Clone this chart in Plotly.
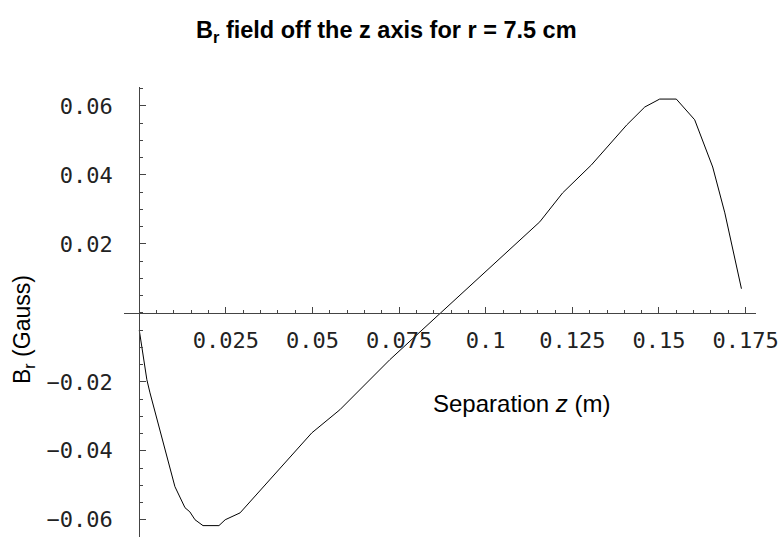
import plotly.graph_objects as go

# Data
z_vals = [0.0, 0.0022, 0.0031, 0.0103, 0.0132, 0.0146, 0.0161, 0.0184, 0.0230, 0.0248,
          0.0291, 0.0498, 0.0579, 0.0723, 0.0870, 0.1156, 0.1222, 0.1305, 0.1407,
          0.1459, 0.1502, 0.1550, 0.1603, 0.1655, 0.1690, 0.1738]
br_vals = [-0.0050, -0.0194, -0.0232, -0.0504, -0.0565, -0.0577, -0.0600, -0.0617, -0.0617,
           -0.0600, -0.0580, -0.0348, -0.0281, -0.0136, 0.0, 0.0264, 0.0348, 0.0429,
           0.0545, 0.0597, 0.0620, 0.0620, 0.0560, 0.0423, 0.0290, 0.0070]

x_ticks = [0.025, 0.05, 0.075, 0.1, 0.125, 0.15, 0.175]
x_ticktext = ["0.025", "0.05", "0.075", "0.1", "0.125", "0.15", "0.175"]
y_ticks = [-0.06, -0.04, -0.02, 0.02, 0.04, 0.06]
y_ticktext = ["\u22120.06", "\u22120.04", "\u22120.02", "0.02", "0.04", "0.06"]

title_text = "B<sub>r</sub> field off the z axis for r = 7.5 cm"
x_label = "Separation <i>z</i> (m)"
y_label = "B<sub>r</sub> (Gauss)"

x_range = [-0.0044, 0.178]
y_range = [-0.065, 0.0655]

fig = go.Figure()
fig.add_trace(go.Scatter(x=z_vals, y=br_vals, mode="lines",
                         line=dict(color="black", width=1), showlegend=False))

tick_font = dict(family="DejaVu Sans Mono", size=22, color="#222")
axis_color = "#444"

fig.update_layout(
    width=781, height=539,
    margin=dict(l=124, r=25, t=87, b=2),
    paper_bgcolor="white", plot_bgcolor="white",
    xaxis=dict(
        range=x_range, showgrid=False, zeroline=False,
        showline=True, linecolor=axis_color, linewidth=1,
        anchor="free", position=(0 - y_range[0]) / (y_range[1] - y_range[0]),
        tickmode="array", tickvals=x_ticks, ticktext=x_ticktext,
        ticks="inside", ticklen=6, tickcolor=axis_color, tickwidth=1,
        minor=dict(tickmode="linear", tick0=0, dtick=0.005, ticks="inside",
                   ticklen=3, tickcolor=axis_color, tickwidth=1),
        tickfont=tick_font, ticklabelstandoff=8,
    ),
    yaxis=dict(
        range=y_range, showgrid=False, zeroline=False,
        showline=True, linecolor=axis_color, linewidth=1,
        anchor="free", position=(0 - x_range[0]) / (x_range[1] - x_range[0]),
        tickmode="array", tickvals=y_ticks, ticktext=y_ticktext,
        ticks="inside", ticklen=6, tickcolor=axis_color, tickwidth=1,
        minor=dict(tickmode="linear", tick0=0, dtick=0.005, ticks="inside",
                   ticklen=3, tickcolor=axis_color, tickwidth=1),
        tickfont=tick_font, ticklabelstandoff=22,
    ),
    annotations=[
        dict(text=title_text, xref="paper", yref="paper", x=(386 - 124) / 632, y=1 + (87 - 32) / 450,
             xanchor="center", yanchor="middle", showarrow=False,
             font=dict(family="Liberation Sans Narrow, Arial Narrow, Liberation Sans", size=23.5, color="black",
                       weight="bold")),
        dict(text=x_label, xref="paper", yref="paper", x=(521 - 124) / 632, y=(537 - 403) / 450,
             xanchor="center", yanchor="middle", showarrow=False,
             font=dict(family="Liberation Sans, Arial", size=24, color="black")),
        dict(text=y_label, xref="paper", yref="paper", x=(23 - 124) / 632, y=(537 - 330) / 450,
             xanchor="center", yanchor="middle", showarrow=False, textangle=-90,
             font=dict(family="Liberation Sans, Arial", size=23, color="black")),
    ],
)

fig.write_html("out.html")
